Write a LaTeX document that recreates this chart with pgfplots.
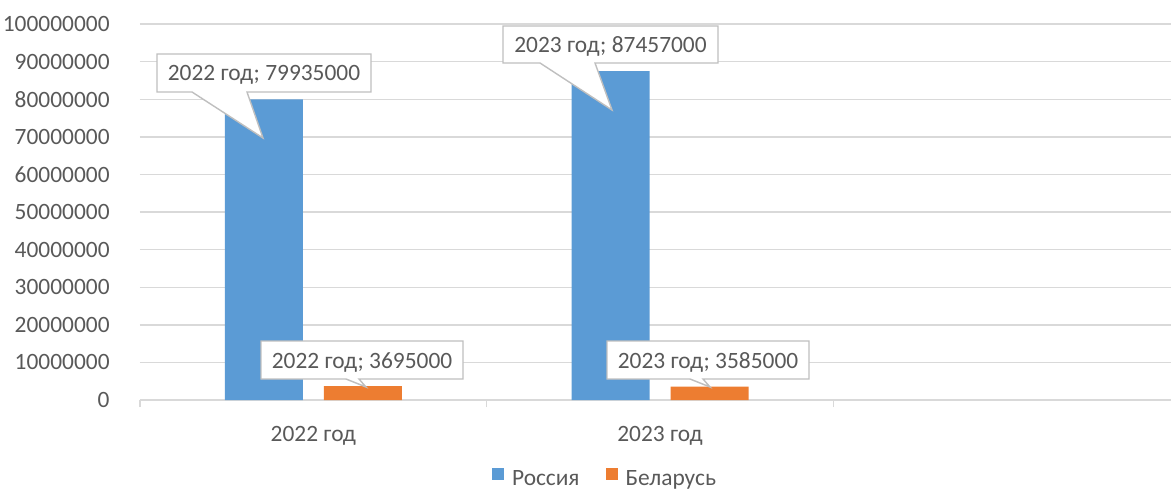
\documentclass[border=0pt]{standalone}
\usepackage{pgfplots}
\pgfplotsset{compat=1.18}
\usepackage{fontspec}
\setmainfont{Carlito}

\definecolor{txt}{HTML}{595959}
\definecolor{gridc}{HTML}{D9D9D9}
\definecolor{boxc}{HTML}{BFBFBF}
\definecolor{rus}{HTML}{5B9BD5}
\definecolor{bel}{HTML}{ED7D31}
\newcommand{\lf}{\fontsize{11.7}{14}\selectfont}

% callout: x1,y1,x2,y2 (box), left base, right base, tip x, tip y, text  (pixel units)
\newcommand{\callout}[9]{%
  \draw[boxc, fill=white, line width=0.7pt, line join=miter]
    (#1,#2) -- (#3,#2) -- (#3,#4) -- (#6,#4) -- (#7,#8) -- (#5,#4) -- (#1,#4) -- cycle;
  \node[text=txt, font=\lf, inner sep=0pt, anchor=base] at ({(#1+#3)/2},{(#2+#4)/2+8}) {#9};
}

\begin{document}
\begin{tikzpicture}
\path[use as bounding box] (0,0) rectangle (585.5pt,246.5pt);

\begin{axis}[
    at={(70pt,46.5pt)}, anchor=south west,
    scale only axis, width=515.5pt, height=188pt,
    ybar=10.5pt, bar width=39pt,
    xmin=-0.5, xmax=2.474,
    ymin=0, ymax=100000000,
    scaled y ticks=false,
    axis lines*=left,
    y axis line style={draw=none},
    x axis line style={gridc, line width=0.8pt},
    ymajorgrids, grid style={gridc, line width=0.7pt},
    ytick={0,10000000,20000000,30000000,40000000,50000000,60000000,70000000,80000000,90000000,100000000},
    yticklabels={0,10000000,20000000,30000000,40000000,50000000,60000000,70000000,80000000,90000000,100000000},
    ytick style={draw=none},
    yticklabel style={anchor=east, inner sep=0pt, xshift=-11.5pt, font=\lf, text=txt},
    xtick={-0.5,0.5,1.5}, xticklabels={},
    tick align=outside, major tick length=3.5pt,
    xtick style={gridc, line width=0.8pt},
    extra x ticks={0,1},
    extra x tick labels={2022 год,2023 год},
    extra x tick style={major tick length=0pt},
    xticklabel style={anchor=base, inner sep=0pt, yshift=-20.5pt, font=\lf, text=txt},
    legend style={at={(0.452,-0.212)}, anchor=center, draw=none, fill=none,
        font=\lf, text=txt, legend columns=-1,
        /tikz/every odd column/.append style={column sep=2pt},
        /tikz/every even column/.append style={column sep=11pt}},
    legend image code/.code={\fill[#1] (0pt,0pt) rectangle (6pt,6pt);},
]
\addplot[fill=rus, draw=none] coordinates {(0,79935000) (1,87457000)};
\addlegendentry{Россия}
\addplot[fill=bel, draw=none] coordinates {(0,3695000) (1,3585000)};
\addlegendentry{Беларусь}
\end{axis}

\begin{scope}[x=0.5pt, y=-0.5pt, shift={(0pt,246.5pt)}]
\callout{157}{54}{371}{92}{192}{247}{263}{138}{2022 год; 79935000}
\callout{503}{26}{718}{63}{540}{595}{612}{110}{2023 год; 87457000}
\callout{261}{341}{463}{379}{346}{359}{366}{387}{2022 год; 3695000}
\callout{607}{341}{809}{379}{690}{703}{710}{387}{2023 год; 3585000}
\end{scope}
\end{tikzpicture}
\end{document}
